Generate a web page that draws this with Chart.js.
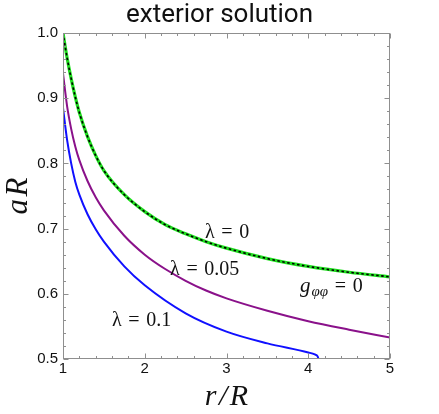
<!DOCTYPE html>
<html>
<head>
<meta charset="utf-8">
<script src="https://cdn.jsdelivr.net/npm/chart.js@4.4.1/dist/chart.umd.min.js"></script>
<style>
  html, body { margin: 0; padding: 0; background: #fff; }
</style>
</head>
<body>
<canvas id="myChart" width="439" height="414"></canvas>
<script>
// values (r/R, aR)
const rZero = [1, 1.05, 1.1, 1.15, 1.2, 1.3, 1.4, 1.5, 1.75, 2, 2.25, 2.5, 2.75, 3, 3.5, 4, 4.5, 5];
const aZero = [1.0, 0.962, 0.93, 0.902, 0.878, 0.841, 0.812, 0.789, 0.752, 0.726, 0.706, 0.692, 0.68, 0.67, 0.654, 0.642, 0.633, 0.626];

const rMid = [1, 1.05, 1.1, 1.15, 1.2, 1.3, 1.4, 1.5, 1.75, 2, 2.25, 2.5, 2.75, 3, 3.5, 4, 4.5, 5];
const aMid = [0.938, 0.888, 0.853, 0.826, 0.805, 0.773, 0.748, 0.728, 0.689, 0.66, 0.638, 0.62, 0.605, 0.593, 0.574, 0.558, 0.545, 0.533];

const rBig = [1, 1.05, 1.1, 1.15, 1.2, 1.3, 1.4, 1.5, 1.75, 2, 2.5, 3, 3.5, 4, 4.08, 4.115, 4.125];
const aBig = [0.885, 0.836, 0.8, 0.772, 0.752, 0.722, 0.699, 0.68, 0.642, 0.613, 0.57, 0.542, 0.524, 0.51, 0.507, 0.504, 0.5];

const xTicks = [1, 2, 3, 4, 5];
const yTicks = [0.5, 0.6, 0.7, 0.8, 0.9, 1.0];

const pts = (rs, as) => rs.map((r, i) => ({ x: r, y: as[i] }));

// text notes next to the curves, anchored in data units
const notes = [
  { text: "λ\u2004=\u20040", r: 2.737, a: 0.6856 },
  { text: "λ\u2004=\u20040.05", r: 2.309, a: 0.6288 },
  { text: "λ\u2004=\u20040.1", r: 1.599, a: 0.5506 },
];
const gNote = { r: 3.899, a: 0.598 };

const serif = '"Liberation Serif", "DejaVu Serif", serif';

// Mathematica style frame with inward ticks on all four sides
const frameTicks = {
  id: "frameTicks",
  afterDatasetsDraw(chart) {
    const { ctx, chartArea: a, scales } = chart;
    const x = scales.x, y = scales.y;
    const L = Math.round(a.left) + 0.5;
    const R = Math.round(a.right) - 0.5;
    const T = Math.round(a.top) + 0.5;
    const B = Math.round(a.bottom) - 0.5;
    ctx.save();
    ctx.strokeStyle = "#8f8f8f";
    ctx.lineWidth = 1;
    ctx.strokeRect(L, T, R - L, B - T);
    ctx.beginPath();
    for (let i = 0; i <= 20; i++) {
      const px = Math.round(x.getPixelForValue(1 + i * 0.2)) + 0.5;
      const len = i % 5 === 0 ? 5 : 2.5;
      ctx.moveTo(px, B); ctx.lineTo(px, B - len);
      ctx.moveTo(px, T); ctx.lineTo(px, T + len);
    }
    for (let i = 0; i <= 25; i++) {
      const py = Math.round(y.getPixelForValue(0.5 + i * 0.02)) + 0.5;
      const len = i % 5 === 0 ? 5 : 2.5;
      ctx.moveTo(L, py); ctx.lineTo(L + len, py);
      ctx.moveTo(R, py); ctx.lineTo(R - len, py);
    }
    ctx.stroke();

    // curve labels
    ctx.fillStyle = "#111";
    ctx.textBaseline = "alphabetic";
    ctx.textAlign = "left";
    ctx.font = "20px " + serif;
    notes.forEach((n) => {
      ctx.fillText(n.text, x.getPixelForValue(n.r), y.getPixelForValue(n.a));
    });
    let gx = x.getPixelForValue(gNote.r);
    const gy = y.getPixelForValue(gNote.a);
    ctx.font = "italic 21px " + serif;
    ctx.fillText("g", gx, gy - 3);
    gx += ctx.measureText("g").width + 1;
    ctx.font = "italic 15px " + serif;
    ctx.fillText("φφ", gx, gy + 1);
    gx += ctx.measureText("φφ").width;
    ctx.font = "20px " + serif;
    ctx.fillText("\u2004=\u20040", gx, gy - 3);
    ctx.restore();
  },
};

new Chart(document.getElementById("myChart"), {
  type: "line",
  data: {
    datasets: [
      // first dataset is drawn on top
      {
        data: pts(rZero, aZero),
        borderColor: "#000",
        borderWidth: 1.6,
        borderDash: [2.5, 2.5],
      },
      {
        data: pts(rZero, aZero),
        borderColor: "#1fe01f",
        borderWidth: 3.2,
      },
      {
        data: pts(rMid, aMid),
        borderColor: "#8a118a",
        borderWidth: 2,
      },
      {
        data: pts(rBig, aBig),
        borderColor: "#1010ff",
        borderWidth: 2,
      },
    ],
  },
  options: {
    responsive: false,
    animation: false,
    devicePixelRatio: 1,
    layout: { padding: 0 },
    elements: {
      point: { radius: 0 },
      line: { cubicInterpolationMode: "monotone", fill: false },
    },
    plugins: {
      legend: { display: false },
      tooltip: { enabled: false },
      title: {
        display: true,
        text: "exterior solution",
        color: "#111",
        font: { family: "Roboto", size: 26, weight: "normal" },
        padding: { top: 0, bottom: 1.8 },
      },
    },
    scales: {
      x: {
        type: "linear",
        min: 1,
        max: 5,
        grid: { display: false, drawTicks: false },
        border: { display: false },
        afterBuildTicks: (s) => { s.ticks = xTicks.map((v) => ({ value: v })); },
        afterFit: (s) => { s.height = 55; },
        ticks: {
          color: "#111",
          padding: 1,
          font: { family: '"Liberation Sans", Arial, sans-serif', size: 15 },
          callback: (v) => String(v),
        },
        title: {
          display: true,
          text: "r\u200A/\u200AR",
          color: "#111",
          font: { family: serif, size: 30, style: "italic" },
          padding: { top: 0, bottom: -1 },
        },
      },
      y: {
        type: "linear",
        min: 0.5,
        max: 1.0,
        grid: { display: false, drawTicks: false },
        border: { display: false },
        afterBuildTicks: (s) => { s.ticks = yTicks.map((v) => ({ value: v })); },
        afterFit: (s) => { s.width = 63; },
        ticks: {
          color: "#111",
          padding: 5,
          font: { family: '"Liberation Sans", Arial, sans-serif', size: 15 },
          callback: (v) => Number(v).toFixed(1),
        },
        title: {
          display: true,
          text: "a\u200AR",
          color: "#111",
          font: { family: serif, size: 31, style: "italic" },
          padding: { top: 0, bottom: 0 },
        },
      },
      // empty right axis only keeps the white margin on the right
      yRight: {
        type: "linear",
        position: "right",
        min: 0.5,
        max: 1.0,
        grid: { display: false, drawTicks: false },
        border: { display: false },
        ticks: { display: false },
        afterFit: (s) => { s.width = 49; },
      },
    },
  },
  plugins: [frameTicks],
});
</script>
</body>
</html>
